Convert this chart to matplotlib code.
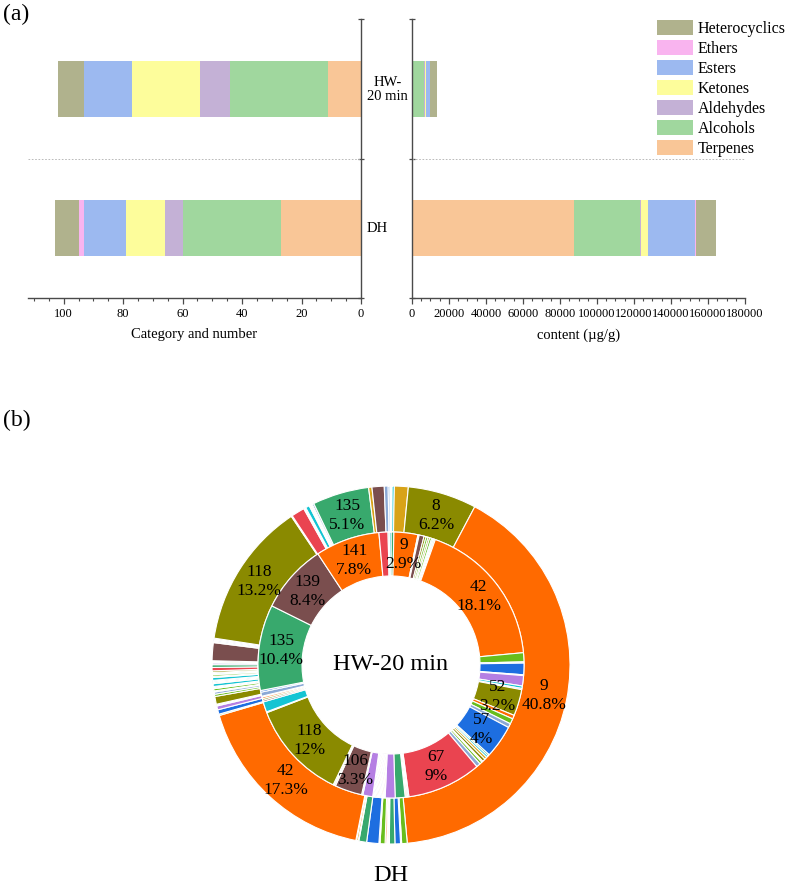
import numpy as np
import matplotlib.pyplot as plt
from matplotlib.patches import Patch
from matplotlib.ticker import MultipleLocator, FormatStrFormatter

plt.rcParams['font.family'] = ['Liberation Serif', 'DejaVu Serif']

# ---- (a) stacked bars ----
groups = ['DH', 'HW-\n20 min']
classes = ['Terpenes', 'Alcohols', 'Aldehydes', 'Ketones', 'Esters', 'Ethers', 'Heterocyclics']
class_colors = ['#F9C697', '#A0D79E', '#C4B1D6', '#FDFD9B', '#9CB9F0', '#F9B4EF', '#B0B28D']

# number of compounds in each class
counts_dh = [27, 33, 6, 13, 14, 2, 8]
counts_hw = [11, 33, 10, 23, 16, 0, 9]

# content (ug/g) of each class
content_dh = [87400, 36000, 600, 3500, 25600, 200, 11200]
content_hw = [200, 6300, 300, 700, 2100, 0, 3900]

# ---- (b) double ring: compound id and share (%) ----
hw_ids = [3, 9, 11, 18, 19, 21, 30, 32, 36, 38, 41, 42,
          43, 44, 46, 47, 48, 49, 51, 52, 53, 54, 55, 57,
          58, 60, 61, 63, 64, 65, 66, 67,
          70, 72, 75, 80, 81, 82, 83, 84, 85, 86, 88, 90, 92, 94, 95, 97, 98, 99, 101, 102, 103, 104,
          106, 107, 116, 118,
          120, 126, 128, 129, 130, 131, 132, 134, 135, 139, 141, 144, 146, 148]
hw_pct = [0.35, 2.9, 0.15, 0.6, 0.25, 0.25, 0.2, 0.25, 0.15, 0.15, 0.15, 18.1,
          1.1, 0.15, 1.4, 0.1, 1.25, 0.3, 0.15, 3.2, 0.45, 0.65, 0.5, 4.0,
          0.2, 0.25, 0.3, 0.35, 0.15, 0.3, 0.5, 9.0,
          0.15, 0.15, 0.15, 1.2, 1.2, 0.1, 0.1, 0.1, 0.1, 0.1, 0.1, 0.1, 0.1, 0.1, 0.1, 0.1, 0.1, 0.1, 0.1, 0.1, 1.2, 0.15,
          3.3, 0.15, 0.15, 12.0,
          0.1, 1.25, 0.2, 0.2, 0.2, 0.1, 0.5, 0.2, 10.4, 8.4, 7.8, 1.1, 0.15, 0.2]

dh_ids = [4, 5, 6, 8, 9,
          21, 22, 24, 25, 26, 27, 28, 29, 31, 32, 33, 35, 36, 38, 39, 40, 42,
          43, 46, 48, 49, 50, 52, 54, 55, 58, 65, 66, 69, 71, 74, 76, 79, 82, 85, 87, 91, 93, 96,
          100, 102, 103, 104, 105, 106, 108, 110, 112, 114, 118,
          120, 122, 124, 125, 126, 128, 130, 131, 132, 135,
          138, 139, 143, 145, 146]
dh_pct = [0.1, 0.2, 1.25, 6.2, 40.8,
          0.5, 0.1, 0.5, 0.5, 0.06, 0.06, 0.06, 0.06, 0.14, 0.45, 0.1, 1.1, 0.7, 0.06, 0.15, 0.06, 17.3,
          0.12, 0.4, 0.35, 0.08, 0.08, 0.7, 0.2, 0.2, 0.1, 0.2, 0.1, 0.1, 0.25, 0.1, 0.1, 0.1, 0.25, 0.1, 0.15, 0.1, 0.1, 0.15,
          0.3, 0.25, 0.15, 0.1, 0.1, 1.62, 0.1, 0.1, 0.1, 0.1, 13.2,
          0.1, 1.2, 0.1, 0.1, 0.35, 0.1, 0.1, 0.1, 0.15, 5.1,
          0.3, 1.1, 0.35, 0.15, 0.1]

palette = ['#8BA9D6', '#EA4450', '#1D6EE0', '#38A96D', '#B57FE3', '#14C4D3',
           '#D8A318', '#7A4E4E', '#8A8A00', '#FF6A00', '#68BD1C']

fig = plt.figure(figsize=(7.89, 8.92), dpi=100)
W, H = 789, 892


def px_axes(x0, y0, x1, y1):
    return fig.add_axes([x0 / W, 1 - y1 / H, (x1 - x0) / W, (y1 - y0) / H])


def stack(ax, values_dh, values_hw):
    left = np.zeros(2)
    for k, name in enumerate(classes):
        vals = np.array([values_dh[k], values_hw[k]], dtype=float)
        ax.barh([0, 1], vals, left=left, height=0.4, color=class_colors[k], label=name)
        left += vals
    ax.set_ylim(-0.5, 1.5)
    ax.set_yticks([-0.5, 0.5, 1.5])
    ax.axhline(0.5, color='#b0b0b0', ls=(0, (2, 2)), lw=0.6)
    for s in ax.spines.values():
        s.set_color('#4a4a4a')
        s.set_linewidth(1.0)
    ax.tick_params(axis='x', which='major', direction='out', length=4, width=0.9,
                   color='#4a4a4a', labelsize=9, pad=3)
    ax.tick_params(axis='x', which='minor', direction='out', length=2.5, width=0.8, color='#4a4a4a')
    ax.tick_params(axis='y', direction='inout', length=5, width=0.9, color='#4a4a4a',
                   labelleft=False, labelright=False)


ax_l = px_axes(28, 19, 361, 298)
stack(ax_l, counts_dh, counts_hw)
ax_l.set_xlim(112, 0)
ax_l.xaxis.set_major_locator(MultipleLocator(20))
ax_l.xaxis.set_minor_locator(MultipleLocator(5))
ax_l.spines['top'].set_visible(False)
ax_l.spines['left'].set_visible(False)
ax_l.yaxis.tick_right()
ax_l.tick_params(axis='y', labelright=False)
ax_l.set_xlabel('Category and number', fontsize=10.5, labelpad=6)

ax_r = px_axes(412, 19, 745, 298)
stack(ax_r, content_dh, content_hw)
ax_r.set_xlim(0, 180000)
ax_r.xaxis.set_major_locator(MultipleLocator(20000))
ax_r.xaxis.set_minor_locator(MultipleLocator(5000))
ax_r.xaxis.set_major_formatter(FormatStrFormatter('%d'))
ax_r.spines['top'].set_visible(False)
ax_r.spines['right'].set_visible(False)
ax_r.set_xlabel('content (\u00b5g/g)', fontsize=10.5, labelpad=6)

for g, yc in zip(groups, [228, 89]):
    fig.text(367 / W, 1 - yc / H, g, ha='left', va='center', fontsize=10.5,
             multialignment='center', linespacing=1.1)

handles = [Patch(facecolor=c, edgecolor='none') for c in class_colors][::-1]
fig.legend(handles, classes[::-1], loc='upper left', bbox_to_anchor=(657 / W, 1 - 20 / H),
           frameon=False, fontsize=11.5, handlelength=2.25, handleheight=1.05,
           handletextpad=0.3, labelspacing=0.2, borderpad=0, borderaxespad=0)

fig.text(3 / W, 1 - 14 / H, '(a)', fontsize=17, va='center', ha='left')
fig.text(3 / W, 1 - 420 / H, '(b)', fontsize=17, va='center', ha='left')

# ---- (b) rings ----
R = 179
ax_p = px_axes(391 - R, 665 - R, 391 + R, 665 + R)


def ring(ids, pct, radius, width):
    colors = [palette[i % 11] for i in ids]
    wedges, _ = ax_p.pie(pct, radius=radius, colors=colors, startangle=90, counterclock=False,
                         wedgeprops=dict(width=width, edgecolor='white', linewidth=0.8))
    rl = radius - width / 2
    for w, i, p in zip(wedges, ids, pct):
        if p < 2.5:
            continue
        a = np.deg2rad((w.theta1 + w.theta2) / 2)
        ax_p.text(rl * np.cos(a), rl * np.sin(a), f'{i}\n{p:g}%', ha='center', va='center',
                  fontsize=12.5, linespacing=1.25)


ring(dh_ids, dh_pct, 1.0, 46 / R)
ring(hw_ids, hw_pct, 133 / R, 44 / R)
ax_p.set_xlim(-1, 1)
ax_p.set_ylim(-1, 1)
ax_p.text(0, 0, 'HW-20 min', ha='center', va='center', fontsize=17.5)
ax_p.text(0, -1.175, 'DH', ha='center', va='center', fontsize=17.5)

fig.savefig('out.png', dpi=100)
